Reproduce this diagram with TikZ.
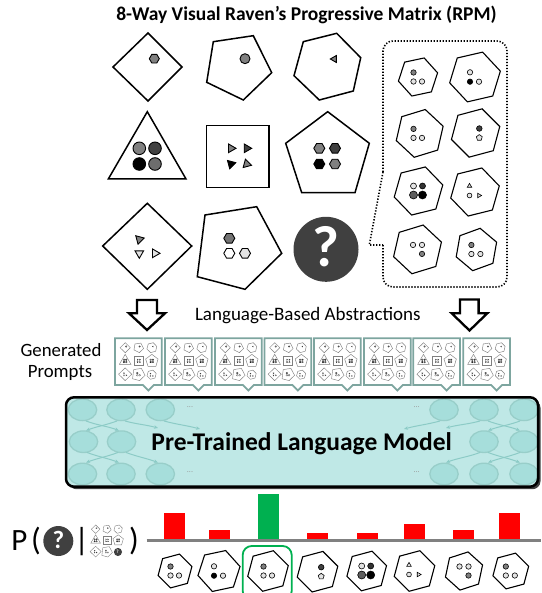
\documentclass[tikz,border=0pt]{standalone}
\usepackage{fontspec}
\setmainfont{Carlito}
\usetikzlibrary{arrows.meta}
\definecolor{lgt}{HTML}{E3E3E3}
\definecolor{mgr}{HTML}{808080}
\definecolor{dgr}{HTML}{404040}
\definecolor{cardc}{HTML}{7DA59F}
\definecolor{lmfill}{HTML}{BFE8E6}
\definecolor{lmell}{HTML}{A6DEDB}
\definecolor{lmedge}{HTML}{98CEC9}
\definecolor{lmarr}{HTML}{8CCBC6}
\definecolor{barred}{HTML}{FF0000}
\definecolor{bargreen}{HTML}{00B050}
\tikzset{
  panel/.style={draw=black, line width=1.5pt, fill=white, line join=miter},
  inner/.style={draw=black, line width=0.9pt},
  ansdot/.style={draw=black, line width=0.6pt},
  anshex/.style={draw=black, line width=1.1pt, fill=white},
  cardbox/.style={draw=cardc, line width=1.8pt, fill=white, line join=miter},
  hollowarrow/.style={draw=black, line width=2.3pt, fill=white, line join=miter},
  lmell/.style={fill=lmell, draw=lmedge, line width=1.3pt},
  lmarrow/.style={draw=lmarr, line width=1pt, -{Stealth[length=4pt,width=3.5pt]}},
  dotsnode/.style={text=gray!80, font=\fontsize{8}{8}\selectfont},
  bigtext/.style={font=\fontsize{32}{32}\selectfont, anchor=base},
}
\newcommand{\rpmhex}[5]{\draw[#1,shift={(#2,#3)}] (#5:#4) -- (#5+60:#4) -- (#5+120:#4) -- (#5+180:#4) -- (#5+240:#4) -- (#5+300:#4) -- cycle;}
\newcommand{\rpmpent}[5]{\draw[#1,shift={(#2,#3)}] (#5:#4) -- (#5+72:#4) -- (#5+144:#4) -- (#5+216:#4) -- (#5+288:#4) -- cycle;}
\newcommand{\rpmtri}[5]{\draw[#1,shift={(#2,#3)}] (#5:#4) -- (#5+120:#4) -- (#5+240:#4) -- cycle;}
\newcommand{\rpmgrid}{%
  \draw[panel] (148,33) -- (182,67) -- (148,101) -- (113,67) -- cycle;
  \rpmhex{inner,fill=mgr}{154.3}{58.7}{5}{0}
  \draw[panel] (213.3,41.7) -- (253.3,35.7) -- (271.7,72.7) -- (243.3,100) -- (206.7,82.3) -- cycle;
  \draw[inner,fill=mgr] (245,58.7) circle[radius=5];
  \draw[panel] (303.3,41.7) -- (336.7,33.3) -- (360.7,57.7) -- (353.3,91) -- (319.3,100) -- (294,75.7) -- cycle;
  \rpmtri{inner,fill=mgr}{334.3}{59}{4}{180}
  \draw[panel] (147.3,111.7) -- (186,179) -- (108.3,179) -- cycle;
  \draw[inner,fill=mgr] (139.3,148.3) circle[radius=6.3];
  \draw[inner,fill=dgr] (155,148.3) circle[radius=6.3];
  \draw[inner,fill=black] (139.3,164) circle[radius=6.3];
  \draw[inner,fill=mgr!85!black] (155,164) circle[radius=6.3];
  \draw[panel] (206.7,125.7) rectangle (269,187.3);
  \rpmtri{inner,fill=mgr}{231}{148.3}{5}{0}
  \rpmtri{inner,fill=dgr}{246.7}{148.3}{5}{0}
  \rpmtri{inner,fill=black}{231}{164}{5}{-15}
  \rpmtri{inner,fill=mgr}{246.7}{164}{5}{15}
  \draw[panel] (327.7,111.7) -- (369.3,143.3) -- (355,192.7) -- (301.7,192.7) -- (285.7,143.3) -- cycle;
  \rpmhex{inner,fill=mgr}{319.3}{148.3}{5.5}{0}
  \rpmhex{inner,fill=dgr}{335}{148.3}{5.5}{0}
  \rpmhex{inner,fill=black}{319.3}{164}{5.5}{0}
  \rpmhex{inner,fill=mgr}{335}{164}{5.5}{0}
  \draw[panel] (147.3,203.3) -- (191.7,246) -- (147.3,289.3) -- (102.7,246) -- cycle;
  \rpmtri{inner,fill=mgr}{139.3}{239.3}{5}{-15}
  \rpmtri{inner,fill=lgt}{139.3}{253.3}{5}{90}
  \rpmtri{inner,fill=lgt}{155}{253.3}{5}{0}
  \draw[panel] (205,215) -- (256.7,206.7) -- (281.7,253.3) -- (245,289.3) -- (197.3,276.7) -- cycle;
  \rpmhex{inner,fill=mgr!90!black}{229.3}{238.3}{5.5}{0}
  \rpmhex{inner,fill=white}{229.3}{253.3}{5.5}{0}
  \rpmhex{inner,fill=lgt}{245}{253.3}{5.5}{0}
}
% answer contents
\newcommand{\AnsA}[2]{\begin{scope}[shift={(#1,#2)}]
  \draw[ansdot,fill=mgr] (-4.5,-4.5) circle[radius=2.7];
  \draw[ansdot,fill=lgt] (-4.5,4.5) circle[radius=2.7];
  \draw[ansdot,fill=lgt] (4,4.5) circle[radius=2.7];\end{scope}}
\newcommand{\AnsB}[2]{\begin{scope}[shift={(#1,#2)}]
  \draw[ansdot,fill=lgt] (-5,-4.7) circle[radius=2.7];
  \draw[ansdot,fill=black] (-5,4.7) circle[radius=2.7];
  \draw[ansdot,fill=lgt] (4,4.7) circle[radius=2.7];\end{scope}}
\newcommand{\AnsD}[2]{\begin{scope}[shift={(#1,#2)}]
  \draw[ansdot,fill=dgr] (3.7,-4.5) circle[radius=2.8];
  \rpmpent{ansdot,fill=lgt}{3.7}{4.7}{3.1}{-90}\end{scope}}
\newcommand{\AnsE}[2]{\begin{scope}[shift={(#1,#2)}]
  \draw[ansdot,fill=lgt] (-5,-5) circle[radius=3];
  \draw[ansdot,fill=dgr!80!black] (4,-5) circle[radius=3];
  \draw[ansdot,fill=dgr!85] (-5,4) circle[radius=4];
  \draw[ansdot,fill=black] (4,4) circle[radius=4];\end{scope}}
\newcommand{\AnsF}[2]{\begin{scope}[shift={(#1,#2)}]
  \rpmtri{ansdot,fill=lgt}{-5.5}{-6}{2.6}{-90}
  \draw[ansdot,fill=lgt] (-5.5,3.5) circle[radius=2.4];
  \rpmtri{ansdot,fill=lgt}{4}{3.5}{2.6}{0}\end{scope}}
\newcommand{\AnsG}[2]{\begin{scope}[shift={(#1,#2)}]
  \draw[ansdot,fill=lgt] (-4.5,-4.5) circle[radius=2.7];
  \draw[ansdot,fill=lgt] (4.5,-4.5) circle[radius=2.7];
  \draw[ansdot,fill=mgr] (4.5,4.5) circle[radius=2.7];\end{scope}}
\newcommand{\AnsH}[2]{\begin{scope}[shift={(#1,#2)}]
  \draw[ansdot,fill=mgr] (-5,-4.5) circle[radius=2.7];
  \draw[ansdot,fill=lgt] (-5,4.5) circle[radius=2.7];
  \draw[ansdot,fill=lgt] (4,4.5) circle[radius=2.7];\end{scope}}
\begin{document}
\begin{tikzpicture}[x=1pt,y=-1pt]
\useasboundingbox (0,0) rectangle (541,593);

% title
\node[font=\bfseries\fontsize{19.5}{20}\selectfont, anchor=base] (title) at (306.5,20.7) {8-Way Visual Raven’s Progressive Matrix (RPM)};

% big matrix
\rpmgrid
\draw[fill=dgr, draw=none] (326,249.3) circle[radius=32.5];
\node[text=white, font=\bfseries\fontsize{58}{58}\selectfont] (qbig) at (326,247) {?};

% answer panel
\draw[dash pattern=on 1.3pt off 1.7pt, line width=1.6pt, rounded corners=10]
  (383,245) -- (383,287) -- (507,287) -- (507,41) -- (383,41) -- (383,172);
\draw[dash pattern=on 1.3pt off 1.7pt, line width=1.6pt] (383,172) -- (369.3,245) -- (383,245);
\rpmhex{anshex}{418}{77}{20}{-12}      \AnsA{418}{77}
\rpmhex{anshex}{475}{77}{26}{-13}      \AnsB{475}{77}
\rpmhex{anshex}{419.7}{133.4}{24.5}{-17} \AnsA{418}{133.4}
\rpmhex{anshex}{475.6}{133}{25}{-15}   \AnsD{475.6}{133}
\rpmhex{anshex}{418.5}{191}{25}{-14}   \AnsE{418.5}{191}
\rpmhex{anshex}{475}{192}{25}{-14}     \AnsF{475}{192}
\rpmhex{anshex}{417.5}{249.4}{25}{-17} \AnsG{417.5}{249.4}
\rpmhex{anshex}{476.4}{249.5}{21.5}{-20} \AnsH{476.4}{249.5}

% hollow arrows
\draw[hollowarrow] (137,300) -- (157,300) -- (157,313.3) -- (165,313.3) -- (147,330) -- (129,313.3) -- (137,313.3) -- cycle;
\draw[hollowarrow] (460,299.5) -- (478.6,299.5) -- (478.6,313.3) -- (487.3,313.3) -- (469.5,330.5) -- (451.7,313.3) -- (460,313.3) -- cycle;
\node[font=\fontsize{19}{19}\selectfont, anchor=base] (lba) at (307.8,320.7) {Language-Based Abstractions};

% generated prompts
\node[font=\fontsize{18.8}{19}\selectfont, anchor=base] (gen1) at (61,356.7) {Generated};
\node[font=\fontsize{18.8}{19}\selectfont, anchor=base] (gen2) at (60,377.3) {Prompts};
\foreach \cx in {138.3,188.3,238.3,287.8,337.3,387.3,436.6,486.6}{
  \draw[cardbox] (\cx-23.35,338.3) -- (\cx+23.35,338.3) -- (\cx+23.35,385) -- (\cx+15.5,385) -- (\cx+10,390.5) -- (\cx+4.5,385) -- (\cx-23.35,385) -- cycle;
  \begin{scope}[shift={(\cx,361.7)},scale=0.148,shift={(-236,-161.5)},
      panel/.style={draw=gray, line width=0.45pt, fill=white},
      inner/.style={draw=dgr, line width=0.25pt}]
    \rpmgrid
    \rpmhex{panel}{326}{249.3}{32}{-15}
    \draw[fill=dgr,draw=none] (318,242) circle[radius=5];
    \draw[fill=dgr,draw=none] (318,258) circle[radius=5];
    \draw[fill=dgr,draw=none] (334,258) circle[radius=5];
  \end{scope}
}

% language model box
\fill[black!75, rounded corners=8] (68.5,399.8) rectangle (540.5,489.2);
\fill[lmfill, rounded corners=8] (66,397.3) rectangle (538,486.7);
\begin{scope}
  \clip[rounded corners=8] (66,397.3) rectangle (538,486.7);
  \foreach \ex in {82.5,121,160.3,444,484,524}{
    \draw[lmell] (\ex,409.8) ellipse[x radius=14.2, y radius=10.8];
    \draw[lmell] (\ex,474) ellipse[x radius=14.2, y radius=10.8];
  }
  \foreach \ex in {83.5,121.5,484,524}{
    \draw[lmell] (\ex,441.7) ellipse[x radius=14.2, y radius=10.8];
  }
  \draw[lmarrow] (86,421) to[out=-20,in=160] (119,430.5);
  \draw[lmarrow] (117,421) to[out=200,in=20] (86,430.5);
  \draw[lmarrow] (125,421) to[out=-15,in=165] (158,428);
  \draw[lmarrow] (164,421) to[out=-15,in=165] (200,429);
  \draw[lmarrow] (87,452.5) to[out=-20,in=160] (119,462.5);
  \draw[lmarrow] (118,452.5) to[out=200,in=20] (86,462.5);
  \draw[lmarrow] (126,452.5) to[out=-20,in=160] (158,462.5);
  \draw[lmarrow] (440,421) to[out=195,in=15] (404,429);
  \draw[lmarrow] (480,421) to[out=195,in=15] (446,428);
  \draw[lmarrow] (488,421) to[out=-20,in=160] (520,430.5);
  \draw[lmarrow] (520,421) to[out=200,in=20] (488,430.5);
  \draw[lmarrow] (480,452.5) to[out=200,in=20] (446,462.5);
  \draw[lmarrow] (488,452.5) to[out=-20,in=160] (520,462.5);
  \draw[lmarrow] (520,452.5) to[out=200,in=20] (488,462.5);
\end{scope}
\draw[line width=2.5pt, rounded corners=8] (66,397.3) rectangle (538,486.7);
\node[dotsnode] (d1) at (190,407) {...};
\node[dotsnode] (d2) at (416.7,407) {...};
\node[dotsnode] (d3) at (190,472) {...};
\node[dotsnode] (d4) at (416.7,472) {...};
\node[font=\bfseries\fontsize{25.5}{26}\selectfont, anchor=base] (plm) at (301.7,450) {Pre-Trained Language Model};

% probability expression
\node[font=\fontsize{31}{31}\selectfont, anchor=base] (pP) at (19.5,550.5) {P};
\node[bigtext] (lpar) at (36,550) {(};
\draw[fill=dgr,draw=none] (58.3,541) circle[radius=15];
\node[text=white, font=\bfseries\fontsize{25}{25}\selectfont] (qsmall) at (58.3,540) {?};
\node[bigtext] (bar) at (81.7,550) {|};
\begin{scope}[shift={(106.7,541)},scale=0.125,shift={(-236,-161.5)},
    panel/.style={draw=gray, line width=0.4pt, fill=white},
    inner/.style={draw=dgr, line width=0.2pt}]
  \rpmgrid
  \draw[fill=dgr,draw=none] (326,249.3) circle[radius=32.5];
\end{scope}
\node[text=white, font=\bfseries\fontsize{5}{5}\selectfont] (qtiny) at (117.5,552) {?};
\node[bigtext] (rpar) at (134,550) {)};

% bars
\fill[barred] (164,512.7) rectangle (185,540);
\fill[barred] (209,530) rectangle (230,540);
\fill[bargreen] (258.3,494) rectangle (279,540);
\fill[barred] (306.7,532.7) rectangle (328.3,540);
\fill[barred] (356.7,532.7) rectangle (378.3,540);
\fill[barred] (404,524.3) rectangle (425,540);
\fill[barred] (452.7,530) rectangle (474,540);
\fill[barred] (499.3,512.7) rectangle (520,540);
\draw[draw=mgr, line width=2.5pt] (146.7,540.7) -- (541,540.7);

% bottom answers
\rpmhex{anshex}{175}{571}{17.5}{-15} \AnsA{175}{571}
\rpmhex{anshex}{219}{571}{21.5}{-12} \AnsB{219}{571}
\rpmhex{anshex}{268}{571}{21}{-15}   \AnsA{268}{571}
\rpmhex{anshex}{317.5}{571.7}{21}{-15} \AnsD{317.5}{571.7}
\rpmhex{anshex}{366.7}{571}{20.5}{-15} \AnsE{366.7}{571}
\rpmhex{anshex}{414.5}{571}{21}{-15} \AnsF{414.5}{571}
\rpmhex{anshex}{464}{571}{19.5}{-18} \AnsG{464}{571}
\rpmhex{anshex}{510.8}{571}{18.5}{-15} \AnsH{510.8}{571}
\draw[bargreen, line width=1.8pt, rounded corners=9] (242.7,546) rectangle (291.7,600);
\end{tikzpicture}
\end{document}
